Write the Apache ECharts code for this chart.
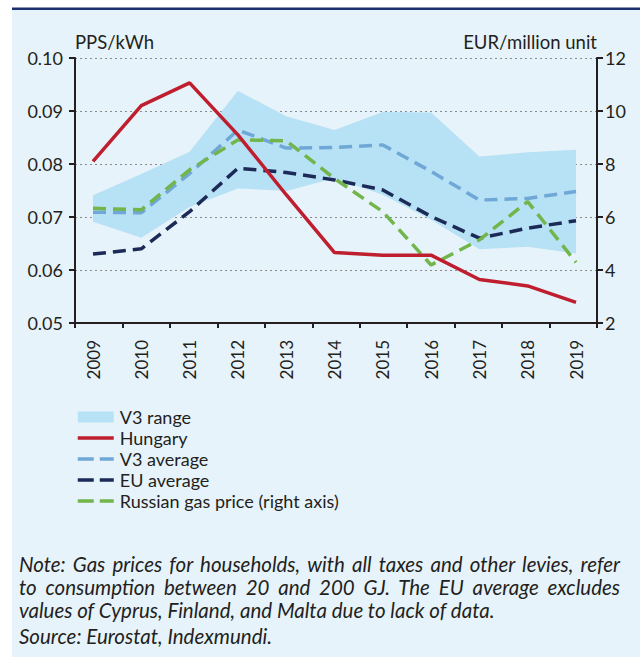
<!DOCTYPE html>
<html>
<head>
<meta charset="utf-8">
<script src="https://cdn.jsdelivr.net/npm/echarts@6/dist/echarts.min.js"></script>
<style>
  html, body { margin: 0; padding: 0; background: #ffffff; }
  #wrap { position: relative; width: 640px; height: 662px; }
  #chart { position: absolute; left: 0; top: 0; width: 640px; height: 662px; }
  #note { position: absolute; left: 19px; top: 553px; width: 601px; font-family: Lato, sans-serif;
          font-style: italic; font-size: 20.5px; line-height: 23px; color: #231F20; }
  #note div { white-space: nowrap; }
  #note div.j { text-align: justify; text-align-last: justify; white-space: normal; }
  #note div.src { margin-top: 3px; }
</style>
</head>
<body>
<div id="wrap">
  <div id="chart"></div>
  <div id="note">
    <div class="j">Note: Gas prices for households, with all taxes and other levies, refer</div>
    <div class="j">to consumption between 20 and 200 GJ. The EU average excludes</div>
    <div>values of Cyprus, Finland, and Malta due to lack of data.</div>
    <div class="src">Source: Eurostat, Indexmundi.</div>
  </div>
</div>
<script>
const years = ['2009','2010','2011','2012','2013','2014','2015','2016','2017','2018','2019'];
const hungary = [0.0805, 0.0910, 0.0953, 0.0855, 0.0742, 0.0633, 0.0628, 0.0628, 0.0582, 0.0570, 0.0539];
const v3Average = [0.0709, 0.0708, 0.0782, 0.0864, 0.0830, 0.0831, 0.0836, 0.0786, 0.0732, 0.0735, 0.0748];
const euAverage = [0.0630, 0.0640, 0.0710, 0.0792, 0.0784, 0.0770, 0.0751, 0.0701, 0.0660, 0.0679, 0.0693];
const russianGas = [6.33, 6.27, 7.78, 8.91, 8.88, 7.45, 6.20, 4.19, 5.14, 6.58, 4.29];
const v3RangeLow = [0.0691, 0.0661, 0.0719, 0.0754, 0.0749, 0.0773, 0.0742, 0.0695, 0.0639, 0.0644, 0.0631];
const v3RangeHigh = [0.0741, 0.0781, 0.0823, 0.0938, 0.0890, 0.0864, 0.0898, 0.0897, 0.0814, 0.0822, 0.0827];
const leftTicks = { min: 0.05, max: 0.10, interval: 0.01 };
const rightTicks = { min: 2, max: 12, interval: 2 };
const leftTitle = 'PPS/kWh';
const rightTitle = 'EUR/million unit';

const C = {
  bg: '#E7F3FA', frame: '#1B2E6E', axis: '#231F20', grid: '#8A8A8A',
  range: '#B7E1F5', hungary: '#BE1E2D', v3: '#6FA8D6', eu: '#1B2A57', gas: '#72B54A'
};
const FONT = 'Lato';
const rangeSpan = v3RangeHigh.map((v, i) => +(v - v3RangeLow[i]).toFixed(4));

const chart = echarts.init(document.getElementById('chart'), null, { renderer: 'svg' });
const dash = [13, 7];
const legendDash = [16, 6];
const gridBox = { top: 58, bottom: 339 };
chart.setOption({
  animation: false,
  textStyle: { fontFamily: FONT, color: C.axis },
  graphic: [
    { type: 'rect', z: -10, silent: true, shape: { x: 12, y: 10, width: 628, height: 647 }, style: { fill: C.bg } },
    { type: 'rect', z: -9, silent: true, shape: { x: 12, y: 7.5, width: 628, height: 2.5 }, style: { fill: C.frame } },
    { type: 'text', x: 75, y: 42, style: { text: leftTitle, font: '18.5px ' + FONT, fill: C.axis, textAlign: 'left', textVerticalAlign: 'middle' } },
    { type: 'text', x: 597, y: 42, style: { text: rightTitle, font: '18.5px ' + FONT, fill: C.axis, textAlign: 'right', textVerticalAlign: 'middle' } }
  ],
  grid: [
    { left: 75, right: 43, top: gridBox.top, bottom: gridBox.bottom },
    { left: 93, right: 64, top: gridBox.top, bottom: gridBox.bottom }
  ],
  legend: {
    orient: 'vertical', left: 71, top: 403, itemWidth: 36, itemHeight: 11, itemGap: 3,
    textStyle: { fontFamily: FONT, fontSize: 18, color: C.axis, lineHeight: 18, padding: [0, 0, 0, 1] },
    data: [
      { name: 'V3 range', icon: 'rect', itemStyle: { color: C.range } },
      { name: 'Hungary', lineStyle: { width: 3.5 }, itemStyle: { opacity: 0 } },
      { name: 'V3 average', lineStyle: { type: legendDash, width: 3.5 }, itemStyle: { opacity: 0 } },
      { name: 'EU average', lineStyle: { type: legendDash, width: 3.5 }, itemStyle: { opacity: 0 } },
      { name: 'Russian gas price (right axis)', lineStyle: { type: legendDash, width: 3.5 }, itemStyle: { opacity: 0 } }
    ]
  },
  xAxis: [
    {
      type: 'category', gridIndex: 0, data: years, boundaryGap: true,
      axisLine: { lineStyle: { color: C.axis, width: 2 } },
      axisTick: { show: true, length: 5, lineStyle: { color: C.axis, width: 2 } },
      axisLabel: { show: false }
    },
    {
      type: 'category', gridIndex: 1, data: years, boundaryGap: false,
      axisLine: { show: false }, axisTick: { show: false },
      axisLabel: { rotate: 90, margin: 17, fontSize: 17, fontFamily: FONT, color: C.axis }
    }
  ],
  yAxis: [
    {
      type: 'value', gridIndex: 0, position: 'left', min: leftTicks.min, max: leftTicks.max, interval: leftTicks.interval,
      axisLine: { show: true, lineStyle: { color: C.axis, width: 2 } },
      axisTick: { show: true, length: 6, lineStyle: { color: C.axis, width: 2 } },
      axisLabel: { fontSize: 18, fontFamily: FONT, color: C.axis, margin: 12, formatter: v => v.toFixed(2) },
      splitLine: { show: true, lineStyle: { color: C.grid, width: 1, type: [2, 3] } }
    },
    {
      type: 'value', gridIndex: 0, position: 'right', min: rightTicks.min, max: rightTicks.max, interval: rightTicks.interval,
      axisLine: { show: true, lineStyle: { color: C.axis, width: 2 } },
      axisTick: { show: true, length: 6, lineStyle: { color: C.axis, width: 2 } },
      axisLabel: { fontSize: 18, fontFamily: FONT, color: C.axis, margin: 8 },
      splitLine: { show: false }
    },
    { type: 'value', gridIndex: 1, min: leftTicks.min, max: leftTicks.max, show: false, splitLine: { show: false } },
    { type: 'value', gridIndex: 1, min: rightTicks.min, max: rightTicks.max, show: false, splitLine: { show: false } }
  ],
  series: [
    {
      name: 'V3 range base', type: 'line', xAxisIndex: 1, yAxisIndex: 2, stack: 'range', data: v3RangeLow,
      symbol: 'none', lineStyle: { width: 0, opacity: 0 }, silent: true, z: 1
    },
    {
      name: 'V3 range', type: 'line', xAxisIndex: 1, yAxisIndex: 2, stack: 'range', data: rangeSpan,
      symbol: 'none', lineStyle: { width: 0, opacity: 0 }, itemStyle: { color: C.range },
      areaStyle: { color: C.range, opacity: 1 }, silent: true, z: 1
    },
    {
      name: 'Hungary', type: 'line', xAxisIndex: 1, yAxisIndex: 2, data: hungary, symbol: 'none',
      itemStyle: { color: C.hungary }, lineStyle: { color: C.hungary, width: 3.5 }, z: 5
    },
    {
      name: 'V3 average', type: 'line', xAxisIndex: 1, yAxisIndex: 2, data: v3Average, symbol: 'none',
      itemStyle: { color: C.v3 }, lineStyle: { color: C.v3, width: 3.5, type: dash }, z: 3
    },
    {
      name: 'EU average', type: 'line', xAxisIndex: 1, yAxisIndex: 2, data: euAverage, symbol: 'none',
      itemStyle: { color: C.eu }, lineStyle: { color: C.eu, width: 3.5, type: dash }, z: 4
    },
    {
      name: 'Russian gas price (right axis)', type: 'line', xAxisIndex: 1, yAxisIndex: 3, data: russianGas, symbol: 'none',
      itemStyle: { color: C.gas }, lineStyle: { color: C.gas, width: 3.5, type: dash }, z: 4
    }
  ]
});
</script>
</body>
</html>
